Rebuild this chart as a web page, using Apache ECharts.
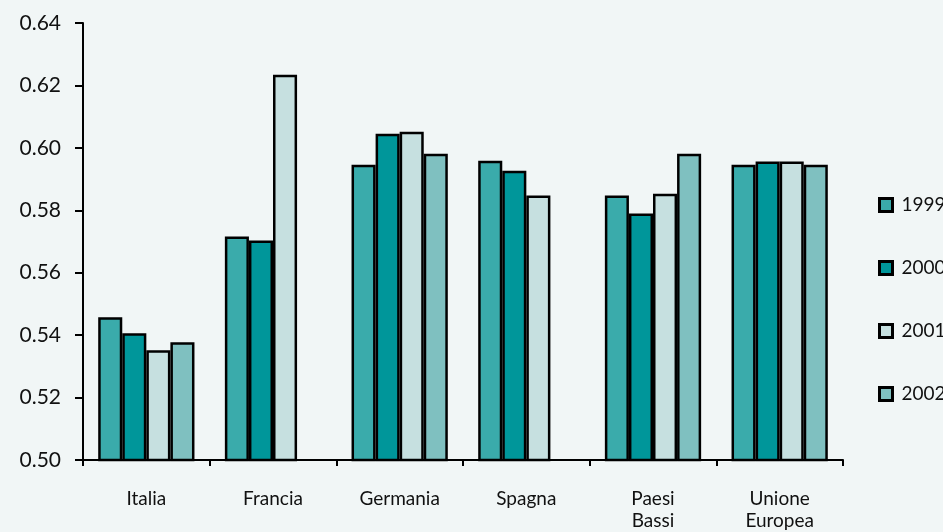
<!DOCTYPE html>
<html>
<head>
<meta charset="utf-8">
<script src="https://cdn.jsdelivr.net/npm/echarts@6/dist/echarts.min.js"></script>
<style>
    html, body { margin: 0; padding: 0; background: #f1f6f6; }
    #chart { width: 943px; height: 532px; }
</style>
</head>
<body>
<div id="chart"></div>
<script>
// categorie e valori
var categories = ["Italia", "Francia", "Germania", "Spagna", "Paesi\nBassi", "Unione\nEuropea"];
var years = ["1999", "2000", "2001", "2002"];
var v1999 = [0.5457, 0.5716, 0.5946, 0.5959, 0.5847, 0.5946];
var v2000 = [0.5406, 0.5703, 0.6045, 0.5927, 0.5790, 0.5956];
var v2001 = [0.5352, 0.6234, 0.6052, 0.5847, 0.5853, 0.5956];
var v2002 = [0.5377, null, 0.5981, null, 0.5981, 0.5946];
var colors = ["#3aabab", "#00969a", "#c6e0e0", "#7fc0c0"];

var chart = echarts.init(document.getElementById("chart"));
var font = "Lato, 'DejaVu Sans', sans-serif";

var seriesData = [v1999, v2000, v2001, v2002];
var series = years.map(function (y, i) {
    return {
        name: y,
        type: "bar",
        data: seriesData[i],
        barGap: "0%",
        barCategoryGap: "24%",
        itemStyle: {
            color: colors[i],
            borderColor: "#000",
            borderWidth: 2.5
        }
    };
});

var option = {
    backgroundColor: "#f1f6f6",
    animation: false,
    grid: {
        left: 83,
        right: 100,
        top: 23,
        bottom: 71
    },
    legend: {
        orient: "vertical",
        left: 873,
        top: 190,
        itemWidth: 13,
        itemHeight: 13,
        itemGap: 43,
        icon: "rect",
        itemStyle: { borderColor: "#000", borderWidth: 3 },
        textStyle: { fontFamily: font, fontSize: 19, color: "#111", lineHeight: 20, padding: [0, 0, 0, 4] },
        data: years
    },
    xAxis: {
        type: "category",
        data: categories,
        axisLine: { lineStyle: { color: "#000", width: 2 } },
        axisTick: { show: true, length: 6, lineStyle: { color: "#000", width: 2 } },
        axisLabel: {
            fontFamily: font,
            fontSize: 19,
            color: "#111",
            margin: 28,
            lineHeight: 22
        }
    },
    yAxis: {
        type: "value",
        min: 0.5,
        max: 0.64,
        interval: 0.02,
        splitLine: { show: false },
        axisLine: { show: true, lineStyle: { color: "#000", width: 2 } },
        axisTick: { show: true, length: 8, lineStyle: { color: "#000", width: 2 } },
        axisLabel: {
            fontFamily: font,
            fontSize: 21,
            color: "#111",
            margin: 22,
            formatter: function (v) { return v.toFixed(2); }
        }
    },
    series: series
};

chart.setOption(option);
</script>
</body>
</html>
